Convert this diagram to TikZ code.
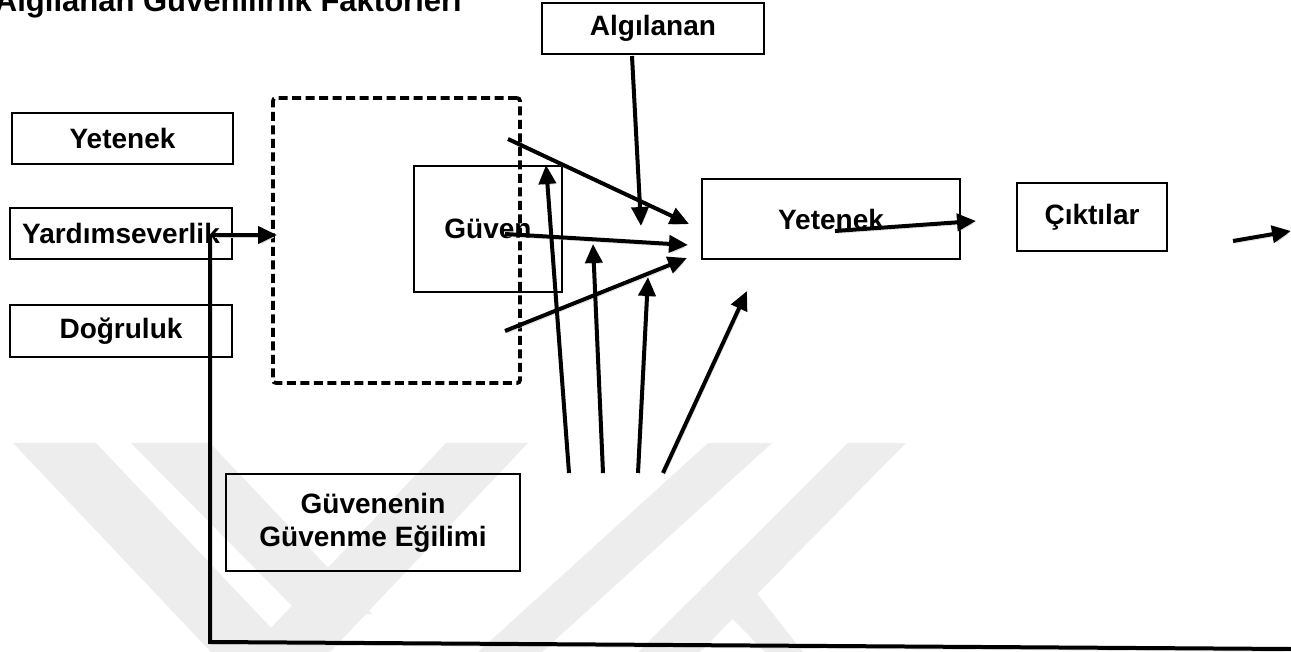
\documentclass[tikz,border=0pt]{standalone}
\usepackage{fontspec}
\setmainfont{Liberation Sans}
\usetikzlibrary{arrows.meta}
\begin{document}
\begin{tikzpicture}[x=1pt,y=-1pt,
  lbl/.style={font=\fontsize{28}{33}\selectfont\bfseries},
  box/.style={draw,line width=2pt,lbl,inner sep=0pt,align=center},
  zone/.style={draw,line width=3.8pt,dash pattern=on 9pt off 4.5pt,rounded corners=3pt,inner sep=0pt},
  shade/.style={preaction={draw=black!18,transform canvas={shift={(1.5pt,-2.5pt)}}}},
  arr/.style={shade,line width=4pt,-{Triangle[length=19pt,width=17pt]}},
  wire/.style={shade,line width=4pt},
  emblem/.style={fill=black!7,draw=none}]
\useasboundingbox (0,0) rectangle (1291,652);

% faint background emblem
\fill[emblem] (13,443) -- (96,443) -- (294,652) -- (211,652) -- cycle;
\fill[emblem] (131,443) -- (210,443) -- (372,614) -- (300,614) -- cycle;
\fill[emblem] (446,443) -- (528,443) -- (330,652) -- (248,652) -- cycle;
\fill[emblem] (708,443) -- (772,443) -- (542,652) -- (478,652) -- cycle;
\fill[emblem] (848,443) -- (906,443) -- (700,652) -- (638,652) -- cycle;
\fill[emblem] (701,587) -- (752,587) -- (803,652) -- (765,652) -- cycle;

% title
\node[anchor=base east,font=\fontsize{31}{36}\selectfont\bfseries,inner sep=0pt]
  (title) at (462,12) {Algılanan Güvenilirlik Faktörleri};

% boxes
\node[box,minimum width=222pt,minimum height=51pt] (alg) at (653,28.5) {Algılanan};
\node[box,minimum width=221pt,minimum height=51pt] (yet1) at (122.5,138.5) {Yetenek};
\node[box,minimum width=222pt,minimum height=51pt] (yard) at (121,233.5) {Yardımseverlik};
\node[box,minimum width=222pt,minimum height=52pt] (dog) at (121,331) {Doğruluk};
\node[zone,minimum width=247pt,minimum height=285pt] (trust) at (396.5,240.5) {};
\node[box,minimum width=148pt,minimum height=126pt] (guven) at (488,229) {Güven};
\node[box,minimum width=258pt,minimum height=80pt] (yet2) at (831,219) {Yetenek};
\node[box,minimum width=150pt,minimum height=68pt] (cikti) at (1092,217) {Çıktılar};
\node[box,minimum width=294pt,minimum height=97pt] (egilim) at (373,522.5) {Güvenenin\\Güvenme Eğilimi};

% connector end points
\coordinate (ys) at (213,235);
\coordinate (ye) at (277,235);
\coordinate (ls) at (210,235);
\coordinate (lc) at (210,642);
\coordinate (le) at (1291,649);
\coordinate (a1s) at (508,139);
\coordinate (a1e) at (689,224);
\coordinate (a2s) at (505,234);
\coordinate (a2e) at (688,245);
\coordinate (a3s) at (505,331);
\coordinate (a3e) at (687,258);
\coordinate (as) at (632,56);
\coordinate (ae) at (641,226);
\coordinate (u1s) at (569,473);
\coordinate (u1e) at (546,165);
\coordinate (u2s) at (603,473);
\coordinate (u2e) at (593,244);
\coordinate (u3s) at (638,473);
\coordinate (u3e) at (648,277);
\coordinate (u4s) at (663,473);
\coordinate (u4e) at (747,291);
\coordinate (ts) at (835,231);
\coordinate (te) at (976,221);
\coordinate (os) at (1233,241);
\coordinate (oe) at (1291,231);

% connectors
\draw[arr] (ys) -- (ye);
\draw[wire] (ls) -- (lc) -- (le);
\draw[arr] (a1s) -- (a1e);
\draw[arr] (a2s) -- (a2e);
\draw[arr] (a3s) -- (a3e);
\draw[arr] (as) -- (ae);
\draw[arr] (u1s) -- (u1e);
\draw[arr] (u2s) -- (u2e);
\draw[arr] (u3s) -- (u3e);
\draw[arr] (u4s) -- (u4e);
\draw[arr] (ts) -- (te);
\draw[arr] (os) -- (oe);
\end{tikzpicture}
\end{document}
